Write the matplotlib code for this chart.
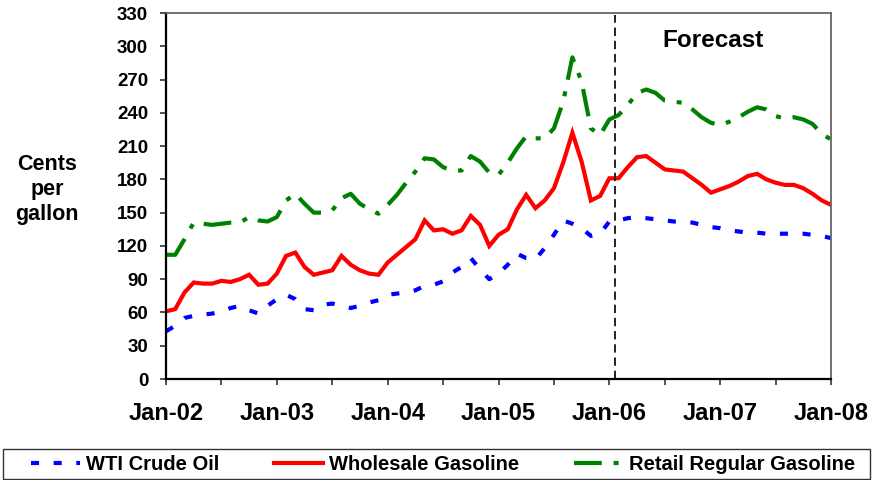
import numpy as np
import matplotlib
matplotlib.use("Agg")
import matplotlib.pyplot as plt
from matplotlib.patches import Rectangle
from matplotlib.lines import Line2D

plt.rcParams['font.family'] = ['Liberation Sans', 'DejaVu Sans']
plt.rcParams['font.weight'] = 'bold'
plt.rcParams['lines.scale_dashes'] = False

# monthly values, Jan-02 .. Jan-08 (cents per gallon)
wti = [43, 48, 55, 57, 58, 59, 61, 64, 66, 62, 59, 66,
       72, 76, 72, 63, 62, 67, 68, 66, 64, 66, 69, 71,
       76, 77, 78, 80, 84, 85, 88, 96, 101, 109, 99, 90,
       95, 103, 113, 109, 108, 118, 130, 143, 140, 136, 129, 131,
       142, 143, 145, 146, 145, 144, 143, 142, 142, 141, 139, 137,
       136, 134, 133, 132, 132, 131, 131, 131, 131, 131, 130, 129,
       127]
wholesale = [61, 63, 78, 87, 86, 86, 88.5, 87.5, 90, 94, 85, 86,
             95, 111, 114, 101, 94, 96, 98, 111, 103, 98, 95, 94,
             105, 112, 119, 126, 143, 134, 135, 131, 134, 147, 139, 120,
             130, 135, 153, 166, 154, 161, 172, 195, 222, 196, 161, 165,
             181, 181, 191, 200, 201, 195, 189, 188, 187, 181, 175, 168,
             171, 174, 178, 183, 185, 180, 177, 175, 175, 172, 167, 161,
             157]
retail = [112, 112, 126, 141, 140, 139, 140, 141, 141, 146, 143, 142,
          146, 161, 167, 158, 150, 150, 152, 163, 167, 158, 153, 149,
          157, 166, 177, 187, 199, 198, 191, 188, 188, 201, 196, 186,
          184, 195, 208, 219, 217, 217, 226, 250, 290, 268, 226, 220,
          234, 238, 247, 258, 261, 258, 251, 250, 249, 243, 236, 231,
          229, 232, 236, 241, 245, 243, 237, 235, 236, 234, 230, 221,
          216]
year_labels = ['Jan-02', 'Jan-03', 'Jan-04', 'Jan-05', 'Jan-06', 'Jan-07', 'Jan-08']
series_names = ['WTI Crude Oil', 'Wholesale Gasoline', 'Retail Regular Gasoline']
forecast_start = 48.6

months = np.arange(len(wti))

fig = plt.figure(figsize=(8.74, 4.8), dpi=100)
ax = fig.add_axes([166 / 874, 101 / 480, 665 / 874, 366 / 480])

l1, = ax.plot(months, wti, color='#0000ff', lw=3, dashes=(5.8, 10.5))
l2, = ax.plot(months, wholesale, color='#ff0000', lw=3, solid_joinstyle='miter')
l3, = ax.plot(months, retail, color='#008000', lw=3, dashes=(20, 8.5, 3.6, 8.5))

ax.axvline(forecast_start, color='#222222', lw=1.4, dashes=(6, 3.5), ymax=0.995)
ax.text(59.2, 305, 'Forecast', ha='center', va='center', fontsize=17.5, fontweight='bold')

ax.set_xlim(0, 72)
ax.set_ylim(0, 330)
ax.set_yticks(np.arange(0, 331, 30))
ax.set_xticks(np.arange(0, 73, 12))
ax.set_xticks(np.arange(6, 73, 12), minor=True)
ax.set_xticklabels(year_labels)

ax.tick_params(axis='y', direction='out', length=4.3, width=1.2, pad=8.5,
               labelsize=13.5, color='#333333')
ax.tick_params(axis='x', which='both', direction='out', length=4.3, width=1.2,
               color='#333333')
ax.tick_params(axis='x', which='major', pad=12, labelsize=17)
for lab in ax.get_xticklabels() + ax.get_yticklabels():
    lab.set_fontweight('bold')

for side in ['left', 'bottom']:
    ax.spines[side].set_color('black')
    ax.spines[side].set_linewidth(1.6)
for side in ['top', 'right']:
    ax.spines[side].set_color('#666666')
    ax.spines[side].set_linewidth(1.3)

fig.text(47 / 874, 1 - 190 / 480, 'Cents\nper\ngallon', ha='center', va='center',
         fontsize=15.5, fontweight='bold', linespacing=1.25)

# legend box across the bottom
fig.patches.append(Rectangle((3 / 874, 1 / 480), 867 / 874, 30 / 480,
                             transform=fig.transFigure, fill=False,
                             edgecolor='#333333', lw=1.0))
handles = [Line2D([], [], color='#0000ff', lw=3, dashes=(5.8, 10.5)),
           Line2D([], [], color='#ff0000', lw=3),
           Line2D([], [], color='#008000', lw=3, dashes=(20, 8.5, 3.6, 8.5))]
fig.legend(handles, series_names, loc='center', bbox_to_anchor=(443 / 874, 15 / 480),
           ncol=3, frameon=False, handlelength=2.4,
           handletextpad=0.3, columnspacing=2.75, prop={'weight': 'bold', 'size': 14.5})

fig.savefig('out.png', dpi=100)
